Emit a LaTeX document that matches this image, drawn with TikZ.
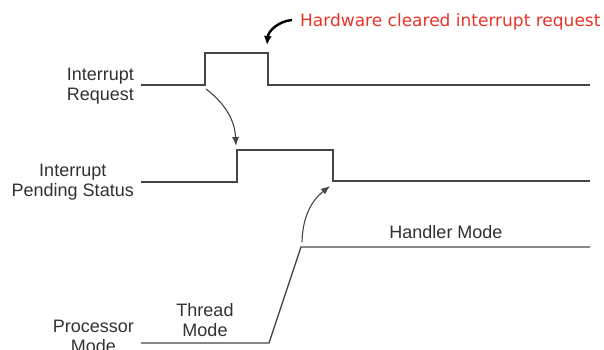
\documentclass[tikz,border=0pt]{standalone}
\usepackage{fontspec}
\setmainfont{Liberation Sans}
\newfontfamily\notefont{DejaVu Sans}
\usetikzlibrary{arrows.meta}
\definecolor{signalgray}{RGB}{70,70,70}
\definecolor{notered}{RGB}{232,52,40}

\tikzset{
  signal/.style={line width=1.3pt, signalgray},
  cause/.style={line width=1.1pt, signalgray, -{Latex[length=9pt,width=7pt]}},
  sigtext/.style={inner sep=0pt, align=center, font=\fontsize{18}{20}\selectfont, text=signalgray!70!black},
}

\begin{document}
\begin{tikzpicture}[x=1pt, y=-1pt]
    \useasboundingbox (0,0) rectangle (604,350);

    % interrupt request
    \node[sigtext, anchor=base east] (irqlabel) at (134,100) {Interrupt\\Request};
    \coordinate (irqrise) at (205,85);
    \coordinate (irqfall) at (268,53);
    \draw[signal] (141,85) -- (irqrise) -- (205,53) -- (irqfall) -- (268,85) -- (590,85);

    % pending status
    \node[sigtext, anchor=base east] (pendlabel) at (134,196) {Interrupt\\Pending Status};
    \coordinate (pendrise) at (237,150);
    \coordinate (pendfall) at (333,181);
    \draw[signal] (141,182) -- (237,182) -- (pendrise) -- (333,150) -- (pendfall) -- (590,181);

    % processor mode
    \node[sigtext, anchor=base east] (modelabel) at (134,352) {Processor\\Mode};
    \node[sigtext, anchor=base] (thread) at (205,336) {Thread\\Mode};
    \node[sigtext, anchor=base] (handler) at (446,238) {Handler Mode};
    \coordinate (modetop) at (301,247);
    \draw[signal] (141,343) -- (269,343) -- (modetop) -- (590,247);

    % causes
    \coordinate (irqstart) at (206,89);
    \coordinate (pendtip) at (236,146);
    \draw[cause] (irqstart) to[bend left=25] (pendtip);
    \coordinate (modestart) at (302,242);
    \coordinate (falltip) at (330,186);
    \draw[cause] (modestart) to[bend left=25] (falltip);

    % hardware note
    \node[inner sep=0pt, anchor=base west, text=notered, font=\notefont\fontsize{17}{20}\selectfont]
      (hwnote) at (300,26.5) {Hardware cleared interrupt request};
    \coordinate (notestart) at (292,20);
    \coordinate (notetip) at (267,45);
    \draw[line width=2.4pt, black, -{Latex[length=9pt,width=8pt]}] (notestart) to[bend right=40] (notetip);
\end{tikzpicture}
\end{document}
